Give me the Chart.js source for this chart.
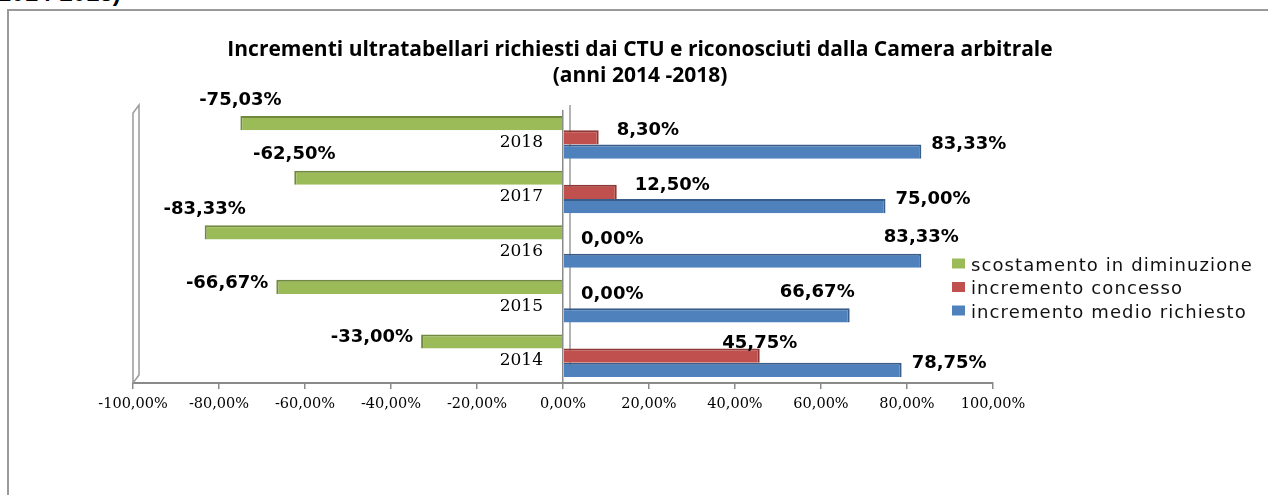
<!DOCTYPE html>
<html><head><meta charset="utf-8">
<script src="https://cdn.jsdelivr.net/npm/chart.js@4.4.1/dist/chart.umd.min.js"></script>
<style>
html,body{margin:0;padding:0;background:#fff;width:1268px;height:495px;overflow:hidden;}
#frame{position:absolute;left:7px;top:9px;width:1300px;height:520px;border-left:2px solid #9a9a9a;border-top:2px solid #9a9a9a;}
#cut{position:absolute;left:-2px;top:-19px;font:bold 24px "Liberation Sans";color:#000;white-space:nowrap;line-height:24px;}
#c{position:absolute;left:0;top:0;}
</style></head>
<body>
<div id="cut">2014-2018)</div>
<div id="frame"></div>
<canvas id="c" width="1268" height="495"></canvas>
<script>
// ---- data ----
const years = ['2018', '2017', '2016', '2015', '2014'];
const scostamento = [-75.03, -62.50, -83.33, -66.67, -33.00];
const concesso = [8.30, 12.50, 0.00, 0.00, 45.75];
const richiesto = [83.33, 75.00, 83.33, 66.67, 78.75];
const xTicks = [-100, -80, -60, -40, -20, 0, 20, 40, 60, 80, 100];
const seriesNames = ['scostamento in diminuzione', 'incremento concesso', 'incremento medio richiesto'];
const titleLines = ['Incrementi ultratabellari richiesti dai CTU e riconosciuti dalla Camera arbitrale', '(anni 2014 -2018)'];
// label placement hints (not coordinates)
const greenLabelPos = ['above', 'above', 'above', 'left', 'left'];
const redLabelPos = ['right', 'right', 'right', 'right', 'over'];
const blueLabelPos = ['right', 'right', 'above', 'aboveL', 'right'];

const fmt = v => Number(v).toFixed(2).replace('.', ',') + '%';

const fills = ['#9BBB59', '#C0504D', '#4F81BD'];
const edges = ['#71893F', '#8C3836', '#385D8A'];

const wallPlugin = {
  id: 'wall',
  beforeDatasetsDraw(chart) {
    const {ctx, chartArea: a, scales: {x}} = chart;
    const x0 = x.getPixelForValue(-100);
    const xz = x.getPixelForValue(0);
    const dx = 6, dy = -8;
    ctx.save();
    ctx.strokeStyle = '#9a9a9a';
    ctx.lineWidth = 1.5;
    ctx.beginPath();
    ctx.moveTo(x0, a.bottom); ctx.lineTo(x0, a.top + 3);
    ctx.lineTo(x0 + dx, a.top + 3 + dy); ctx.lineTo(x0 + dx, a.bottom + dy);
    ctx.lineTo(x0, a.bottom);
    ctx.stroke();
    ctx.beginPath();
    ctx.moveTo(xz + dx + 1, a.top + 3 + dy); ctx.lineTo(xz + dx + 1, a.bottom + dy);
    ctx.stroke();
    ctx.restore();
  }
};

const labelPlugin = {
  id: 'valueLabels',
  afterDatasetsDraw(chart) {
    const {ctx} = chart;
    const placements = [greenLabelPos, redLabelPos, blueLabelPos];
    const gaps = [8, 18, 10];
    ctx.save();
    ctx.font = 'bold 18px "DejaVu Sans"';
    ctx.fillStyle = '#000';
    ctx.textBaseline = 'middle';
    chart.data.datasets.forEach((ds, i) => {
      const meta = chart.getDatasetMeta(i);
      meta.data.forEach((el, j) => {
        const v = ds.data[j];
        const txt = fmt(v);
        const p = placements[i][j];
        const end = el.x;
        let tx = end, ty = el.y, align = 'left';
        if (p === 'right') { tx = end + gaps[i]; ty = el.y - 7; align = 'left'; }
        else if (p === 'left') { tx = end - gaps[i]; ty = el.y - 4; align = 'right'; }
        else if (p === 'above') { tx = end; ty = el.y - 23; align = 'center'; }
        else if (p === 'aboveL') { tx = end + 5; ty = el.y - 23; align = 'right'; }
        else if (p === 'over') { tx = end; ty = el.y - 12; align = 'center'; }
        ctx.textAlign = align;
        ctx.fillText(txt, tx, ty);
      });
    });
    ctx.restore();
  }
};

const catLabelPlugin = {
  id: 'catLabels',
  afterDatasetsDraw(chart) {
    const {ctx, scales: {x, y}} = chart;
    const xz = x.getPixelForValue(0);
    ctx.save();
    ctx.font = '17px "DejaVu Serif"';
    ctx.fillStyle = '#000';
    ctx.textAlign = 'right';
    ctx.textBaseline = 'middle';
    years.forEach((yr, i) => {
      ctx.fillText(yr, xz - 20, y.getPixelForValue(i) + 5);
    });
    ctx.restore();
  }
};

const legendPlugin = {
  id: 'sideLegend',
  afterDraw(chart) {
    const {ctx} = chart;
    ctx.save();
    ctx.font = '18px "DejaVu Sans"';
    try { ctx.letterSpacing = '1.1px'; } catch (e) {}
    ctx.textAlign = 'left';
    ctx.textBaseline = 'alphabetic';
    const rows = [263.5, 287, 310.5];
    seriesNames.forEach((name, i) => {
      ctx.fillStyle = fills[i];
      ctx.fillRect(952, rows[i] - 5, 13, 10);
      ctx.fillStyle = '#111';
      ctx.fillText(name, 971, rows[i] + 7);
    });
    ctx.restore();
  }
};

const titleShift = {
  id: 'titleShift',
  afterLayout(chart) {
    const t = chart.titleBlock;
    if (t) { t.left = 140; t.right = 1140; }
  }
};

new Chart(document.getElementById('c'), {
  type: 'bar',
  data: {
    labels: years,
    datasets: [
      { label: seriesNames[0], data: scostamento, backgroundColor: fills[0], borderColor: edges[0],
        borderWidth: {top: 2, left: 2, right: 0, bottom: 0}, borderSkipped: false },
      { label: seriesNames[1], data: concesso, backgroundColor: fills[1], borderColor: edges[1],
        borderWidth: {top: 2, right: 2, left: 0, bottom: 0}, borderSkipped: false },
      { label: seriesNames[2], data: richiesto, backgroundColor: fills[2], borderColor: edges[2],
        borderWidth: {top: 2, right: 2, left: 0, bottom: 0}, borderSkipped: false }
    ]
  },
  options: {
    indexAxis: 'y',
    responsive: false,
    animation: false,
    devicePixelRatio: 1,
    datasets: { bar: { barPercentage: 1.0, categoryPercentage: 0.78 } },
    layout: { padding: { left: 133, right: 275, top: 0, bottom: 74.6 } },
    scales: {
      x: {
        type: 'linear', min: -100, max: 100,
        afterBuildTicks: s => { s.ticks = xTicks.map(v => ({value: v})); },
        grid: {
          drawOnChartArea: true,
          color: c => (c.tick && c.tick.value === 0) ? '#8a8a8a' : 'rgba(0,0,0,0)',
          lineWidth: 1.5, tickLength: 6, tickColor: '#8a8a8a', tickWidth: 1.5
        },
        border: { color: '#8a8a8a', width: 2 },
        ticks: { font: { family: 'DejaVu Serif', size: 14.5 }, color: '#000', padding: 7,
                 maxRotation: 0, autoSkip: false, callback: v => fmt(v) }
      },
      y: { type: 'category', display: false, grid: { display: false } }
    },
    plugins: {
      legend: { display: false },
      tooltip: { enabled: false },
      title: {
        display: true, text: titleLines, color: '#000',
        font: { family: 'Open Sans', weight: 'bold', size: 21, lineHeight: 1.24 },
        padding: { top: 37, bottom: 21 }
      }
    }
  },
  plugins: [titleShift, wallPlugin, labelPlugin, catLabelPlugin, legendPlugin]
});
</script>
</body></html>
